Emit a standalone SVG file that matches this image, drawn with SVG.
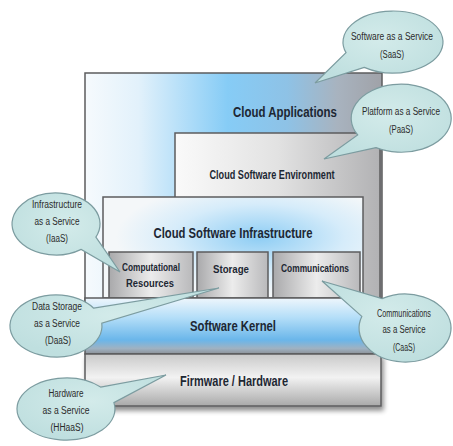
<svg xmlns="http://www.w3.org/2000/svg" width="453" height="446" viewBox="0 0 453 446">
<defs>
<linearGradient id="gApp" x1="0" y1="0" x2="1" y2="0">
<stop offset="0" stop-color="#f6fafd"/>
<stop offset="0.18" stop-color="#e2f1fb"/>
<stop offset="0.48" stop-color="#86ccf6"/>
<stop offset="0.68" stop-color="#8ec2e6"/>
<stop offset="0.85" stop-color="#a8b3bf"/>
<stop offset="1" stop-color="#a0a2a8"/>
</linearGradient>
<linearGradient id="gEnv" x1="0" y1="0" x2="1" y2="0">
<stop offset="0" stop-color="#fafafa"/>
<stop offset="0.5" stop-color="#e2e2e2"/>
<stop offset="1" stop-color="#b2b2b4"/>
</linearGradient>
<radialGradient id="gInf" cx="0.6" cy="0.4" r="0.55">
<stop offset="0" stop-color="#8ecdf4"/>
<stop offset="0.6" stop-color="#d6ecfa"/>
<stop offset="1" stop-color="#f4f7f9"/>
</radialGradient>
<linearGradient id="gSub" x1="0" y1="0" x2="1" y2="0">
<stop offset="0" stop-color="#a9a9ab"/>
<stop offset="0.5" stop-color="#ececec"/>
<stop offset="1" stop-color="#b9b9bb"/>
</linearGradient>
<linearGradient id="gKer" x1="0" y1="0" x2="0" y2="1">
<stop offset="0" stop-color="#eef6fc"/>
<stop offset="0.35" stop-color="#b4def8"/>
<stop offset="0.75" stop-color="#6ab6ea"/>
<stop offset="0.9" stop-color="#9fb2c2"/>
<stop offset="1" stop-color="#8d9298"/>
</linearGradient>
<linearGradient id="gFw" x1="0" y1="0" x2="0" y2="1">
<stop offset="0" stop-color="#c9c9c9"/>
<stop offset="0.45" stop-color="#f2f2f2"/>
<stop offset="1" stop-color="#a9a9a9"/>
</linearGradient>
<radialGradient id="gBub" cx="0.5" cy="0.4" r="0.6">
<stop offset="0" stop-color="#d3ebea"/>
<stop offset="1" stop-color="#bfdfdf"/>
</radialGradient>
<filter id="sh" x="-5%" y="-5%" width="115%" height="125%">
<feGaussianBlur in="SourceAlpha" stdDeviation="2.5"/>
<feOffset dx="2" dy="4"/>
<feComponentTransfer><feFuncA type="linear" slope="0.45"/></feComponentTransfer>
<feMerge><feMergeNode/><feMergeNode in="SourceGraphic"/></feMerge>
</filter>
</defs>
<style>
.box{stroke:#5c5c5e;stroke-width:1.5}
.t{font-family:"Liberation Sans",Arial,sans-serif;font-weight:bold;fill:#1d2733;text-anchor:middle}
.bub{fill:url(#gBub);stroke:#7c9ca0;stroke-width:1.2}
.bt{font-family:"Liberation Sans",Arial,sans-serif;font-size:10px;fill:#2b2b2b;text-anchor:middle}
</style>
<rect width="453" height="446" fill="#ffffff"/>

<g id="cloud-applications">
<rect class="box" x="85" y="73" width="297" height="227" fill="url(#gApp)"/>
<text class="t" x="285" y="117" font-size="15" textLength="104" lengthAdjust="spacingAndGlyphs">Cloud Applications</text>
</g>
<g id="cloud-software-environment">
<rect class="box" x="175" y="133" width="205" height="167" fill="url(#gEnv)"/>
<text class="t" x="272" y="179" font-size="13" textLength="125" lengthAdjust="spacingAndGlyphs">Cloud Software Environment</text>
</g>
<g id="cloud-software-infrastructure">
<rect class="box" x="103" y="197" width="260" height="101" fill="url(#gInf)"/>
<text class="t" x="233" y="238" font-size="15" textLength="159" lengthAdjust="spacingAndGlyphs">Cloud Software Infrastructure</text>
</g>
<g id="computational-resources">
<rect class="box" x="109" y="252" width="84" height="46" fill="url(#gSub)"/>
<text class="t" x="151" y="271" font-size="11" textLength="58" lengthAdjust="spacingAndGlyphs">Computational</text>
<text class="t" x="150" y="287" font-size="11" textLength="48" lengthAdjust="spacingAndGlyphs">Resources</text>
</g>
<g id="storage">
<rect class="box" x="197" y="252" width="71" height="46" fill="url(#gSub)"/>
<text class="t" x="231" y="273" font-size="11" textLength="36" lengthAdjust="spacingAndGlyphs">Storage</text>
</g>
<g id="communications">
<rect class="box" x="273" y="252" width="87" height="46" fill="url(#gSub)"/>
<text class="t" x="315" y="272" font-size="11" textLength="68" lengthAdjust="spacingAndGlyphs">Communications</text>
</g>
<g id="software-kernel">
<rect class="box" x="85" y="298" width="296" height="56" fill="url(#gKer)"/>
<text class="t" x="233" y="331" font-size="14" textLength="86" lengthAdjust="spacingAndGlyphs">Software Kernel</text>
</g>
<g id="firmware-hardware">
<rect class="box" x="85" y="354" width="296" height="52" fill="url(#gFw)" filter="url(#sh)"/>
<text class="t" x="234" y="386" font-size="14" textLength="108" lengthAdjust="spacingAndGlyphs">Firmware / Hardware</text>
</g>

<g id="connectors">
<!-- callout tails are drawn as part of each callout outline -->
</g>

<g id="saas">
<path class="bub" d="M364.3,67.4 L315,83 L346,52.6 A50,31 0 1 1 364.3,67.4 Z"/>
<text class="bt" x="392" y="40" textLength="82" lengthAdjust="spacingAndGlyphs">Software as a Service</text>
<text class="bt" x="392" y="58" textLength="24" lengthAdjust="spacingAndGlyphs">(SaaS)</text>
</g>
<g id="paas">
<path class="bub" d="M376,147.6 L324,159 L357.7,135 A50,34 0 1 1 376,147.6 Z"/>
<text class="bt" x="401" y="115" textLength="78" lengthAdjust="spacingAndGlyphs">Platform as a Service</text>
<text class="bt" x="401" y="133" textLength="24" lengthAdjust="spacingAndGlyphs">(PaaS)</text>
</g>
<g id="iaas">
<path class="bub" d="M95.9,237.1 L120,272 L81.2,249.4 A44,31 0 1 1 95.9,237.1 Z"/>
<text class="bt" x="57" y="208" textLength="50" lengthAdjust="spacingAndGlyphs">Infrastructure</text>
<text class="bt" x="57" y="225" textLength="45" lengthAdjust="spacingAndGlyphs">as a Service</text>
<text class="bt" x="57" y="242" textLength="22" lengthAdjust="spacingAndGlyphs">(IaaS)</text>
</g>
<g id="daas">
<path class="bub" d="M93.7,308.2 L219,288 L101.8,323.3 A46,31 0 1 1 93.7,308.2 Z"/>
<text class="bt" x="57" y="310" textLength="50" lengthAdjust="spacingAndGlyphs">Data Storage</text>
<text class="bt" x="57" y="327" textLength="46" lengthAdjust="spacingAndGlyphs">as a Service</text>
<text class="bt" x="58" y="344" textLength="26" lengthAdjust="spacingAndGlyphs">(DaaS)</text>
</g>
<g id="caas">
<path class="bub" d="M361.8,316.4 L322,281 L382,298.6 A46,34 0 1 1 361.8,316.4 Z"/>
<text class="bt" x="404" y="317" textLength="54" lengthAdjust="spacingAndGlyphs">Communications</text>
<text class="bt" x="404" y="333" textLength="43" lengthAdjust="spacingAndGlyphs">as a Service</text>
<text class="bt" x="404" y="351" textLength="22" lengthAdjust="spacingAndGlyphs">(CaaS)</text>
</g>
<g id="hhaas">
<path class="bub" d="M100.6,387.1 L166,375 L113.9,402.6 A49,31 0 1 1 100.6,387.1 Z"/>
<text class="bt" x="66" y="397" textLength="35" lengthAdjust="spacingAndGlyphs">Hardware</text>
<text class="bt" x="66" y="414" textLength="47" lengthAdjust="spacingAndGlyphs">as a Service</text>
<text class="bt" x="67" y="431" textLength="33" lengthAdjust="spacingAndGlyphs">(HHaaS)</text>
</g>
</svg>
